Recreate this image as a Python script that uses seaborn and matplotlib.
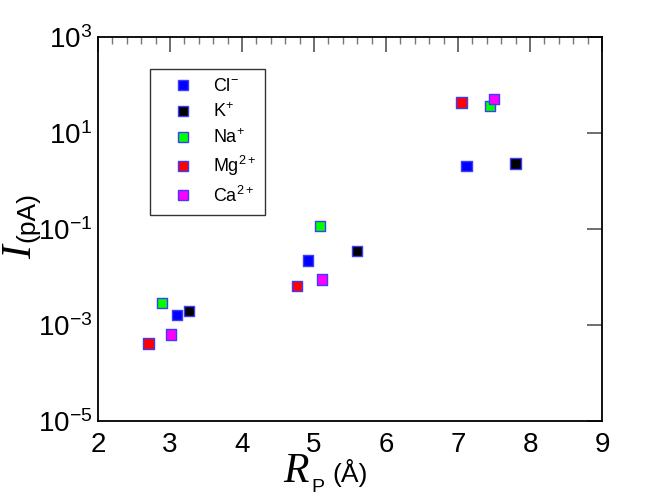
import matplotlib
matplotlib.use("Agg")
import matplotlib.pyplot as plt
import matplotlib.ticker as mticker
import pandas as pd
import seaborn as sns

# ion labels (legend order) and colours
ions = [r"Cl$^{-}$", r"K$^{+}$", r"Na$^{+}$", r"Mg$^{2+}$", r"Ca$^{2+}$"]
colors = ["#0000ff", "#000000", "#00ff00", "#ff0000", "#ff00ff"]

# pore radius R_P (Angstrom) for each ion, three pores
rp_cl = [3.10, 4.92, 7.12]
rp_k = [3.26, 5.60, 7.80]
rp_na = [2.885, 5.08, 7.44]
rp_mg = [2.70, 4.76, 7.05]
rp_ca = [3.01, 5.11, 7.50]

# current I (pA)
i_cl = [1.6e-3, 2.2e-2, 2.05]
i_k = [1.95e-3, 3.5e-2, 2.3]
i_na = [2.9e-3, 0.115, 36.0]
i_mg = [4.1e-4, 6.4e-3, 43.0]
i_ca = [6.3e-4, 8.9e-3, 51.0]

y_ticks = [1e-5, 1e-3, 1e-1, 1e1, 1e3]
x_ticks = [2, 3, 4, 5, 6, 7, 8, 9]


def main():
    rows = []
    for ion, xs, ys in zip(ions, [rp_cl, rp_k, rp_na, rp_mg, rp_ca],
                           [i_cl, i_k, i_na, i_mg, i_ca]):
        for x, y in zip(xs, ys):
            rows.append({"ion": ion, "rp": x, "current": y})
    df = pd.DataFrame(rows)

    sns.set_style("white")
    plt.rcParams["font.family"] = ["Liberation Sans", "DejaVu Sans"]
    plt.rcParams["mathtext.fontset"] = "custom"
    plt.rcParams["mathtext.rm"] = "Liberation Sans"
    plt.rcParams["mathtext.it"] = "Liberation Sans:italic"
    plt.rcParams["mathtext.default"] = "regular"
    plt.rcParams["text.color"] = "black"

    fig = plt.figure(figsize=(6.64, 5.0), dpi=100)
    ax = fig.add_axes([98 / 664, 79 / 500, 504 / 664, 384 / 500])

    palette = dict(zip(ions, colors))
    sns.scatterplot(data=df, x="rp", y="current", hue="ion", hue_order=ions,
                    palette=palette, marker="s", s=55, edgecolor="#3c3cff",
                    linewidth=1.0, ax=ax, zorder=3)

    ax.set_yscale("log")
    ax.set_xlim(2, 9)
    ax.set_ylim(1e-5, 1e3)
    ax.set_xticks(x_ticks)
    ax.xaxis.set_minor_locator(mticker.MultipleLocator(0.2))
    ax.yaxis.set_major_locator(mticker.FixedLocator(y_ticks))
    ax.yaxis.set_minor_locator(mticker.NullLocator())
    ax.yaxis.set_major_formatter(mticker.LogFormatterSciNotation())

    for side in ax.spines.values():
        side.set_color("black")
        side.set_linewidth(1.3)
    ax.tick_params(which="major", direction="in", length=11, width=1.2,
                   color="#555555", top=True, right=True, labelsize=20,
                   labelcolor="black")
    ax.tick_params(which="minor", direction="in", length=5, width=1.0,
                   color="#777777", top=True, right=True)
    ax.tick_params(axis="x", which="major", pad=8)
    ax.tick_params(axis="y", which="major", pad=4)
    ax.set_xlabel("")
    ax.set_ylabel("")

    # axis labels built from pieces (serif italic symbol + sans units)
    W, H = 664, 500
    fig.text(296 / W, 1 - 472 / H, "R", family="Liberation Serif",
             style="italic", fontsize=30, ha="center", va="center")
    fig.text(318 / W, 1 - 487 / H, "P", fontsize=14, ha="center", va="center")
    fig.text(350 / W, 1 - 473 / H, "(Å)", fontsize=19, ha="center", va="center")
    fig.text(21 / W, 1 - 252 / H, "I", family="Liberation Serif",
             style="italic", fontsize=30, rotation=90, ha="center", va="center")
    fig.text(27 / W, 1 - 217 / H, "(pA)", fontsize=19, rotation=90,
             ha="center", va="center")

    handles, labels = ax.get_legend_handles_labels()
    leg = ax.legend(handles, labels, loc="upper left",
                    bbox_to_anchor=(52 / 504, (421 - 69) / 384),
                    borderaxespad=0, frameon=True, fancybox=False,
                    fontsize=13, handlelength=2.6, handletextpad=0.4,
                    borderpad=0.5, labelspacing=0.4, markerscale=1.0)
    leg.get_frame().set_edgecolor("black")
    leg.get_frame().set_linewidth(1.0)

    fig.savefig("out.png", dpi=100)


if __name__ == "__main__":
    main()
